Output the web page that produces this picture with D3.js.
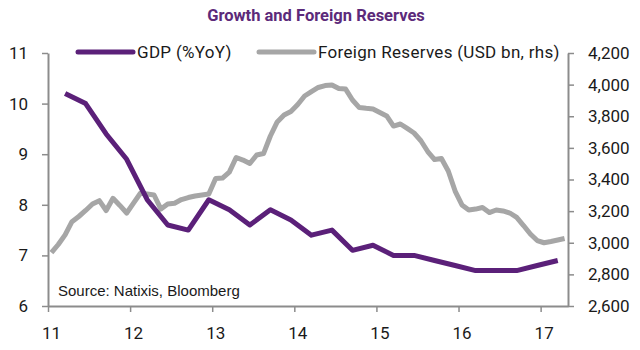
<!DOCTYPE html>
<html>
<head>
<meta charset="utf-8">
<script src="https://cdn.jsdelivr.net/npm/d3@7"></script>
<style>
  body { margin: 0; background: #fff; }
  svg { display: block; }
</style>
</head>
<body>
<div id="chart"></div>
<script>
// Growth and Foreign Reserves: quarterly GDP (left axis) vs monthly reserves (right axis)

// GDP % YoY, quarterly from Q1 2011 to Q1 2017
const gdpStart = 2011;
const gdpValues = [10.2, 10.0, 9.4, 8.9, 8.1, 7.6, 7.5, 8.1, 7.9, 7.6, 7.9, 7.7,
                   7.4, 7.5, 7.1, 7.2, 7.0, 7.0, 6.9, 6.8, 6.7, 6.7, 6.7, 6.8, 6.9];

// Foreign reserves, USD bn, monthly from Jan 2011 to Apr 2017
const reserveValues = [
  2937, 2989, 3050, 3133, 3166, 3204, 3245, 3266, 3204, 3281, 3236, 3188,
  3251, 3313, 3308, 3302, 3213, 3245, 3250, 3273, 3286, 3296, 3302, 3308,
  3406, 3409, 3447, 3539, 3523, 3501, 3555, 3564, 3675, 3764, 3808, 3830,
  3874, 3928, 3956, 3982, 3994, 3998, 3975, 3972, 3903, 3855, 3850, 3846,
  3824, 3802, 3738, 3751, 3723, 3694, 3645, 3577, 3526, 3533, 3454, 3327,
  3239, 3207, 3213, 3223, 3191, 3207, 3201, 3188, 3160, 3109, 3055, 3014,
  3000, 3008, 3017, 3027
];

const yearTicks = [2011, 2012, 2013, 2014, 2015, 2016, 2017];
const leftTicks = [6, 7, 8, 9, 10, 11];
const rightTicks = [2600, 2800, 3000, 3200, 3400, 3600, 3800, 4000, 4200];

// month index -> fractional year (middle of the month)
const gdp = gdpValues.map((v, i) => ({ t: gdpStart + (i * 3 + 2.5) / 12, v }));
const reserves = reserveValues.map((v, i) => ({ t: gdpStart + (i + 0.5) / 12, v }));

const width = 640, height = 350;
const plot = { left: 48, right: 568, top: 53, bottom: 306 };

const purple = "#5b2079";
const grey = "#a6a6a6";
const axisColor = "#8c8c8c";

const svg = d3.select("#chart").append("svg")
    .attr("width", width)
    .attr("height", height)
    .style("font-family", "Roboto, sans-serif");

const x = d3.scaleLinear().domain([2011, 2017 + 4 / 12]).range([plot.left, plot.right]);
const yL = d3.scaleLinear().domain([6, 11]).range([plot.bottom, plot.top]);
const yR = d3.scaleLinear().domain([2600, 4200]).range([plot.bottom, plot.top]);

// Title
svg.append("text")
    .attr("x", 316)
    .attr("y", 21)
    .attr("text-anchor", "middle")
    .style("font-size", "16.5px")
    .style("font-weight", "bold")
    .attr("fill", "#5c2a7a")
    .text("Growth and Foreign Reserves");

// Axes
function styleAxis(g) {
  g.select(".domain").attr("stroke", axisColor).attr("stroke-width", 2);
  g.selectAll(".tick line").attr("stroke", axisColor).attr("stroke-width", 1.5);
  g.selectAll(".tick text").attr("fill", "#1a1a1a").style("font-size", "17px");
  g.attr("font-family", null);
}

svg.append("g")
    .attr("transform", `translate(${plot.left},0)`)
    .call(d3.axisLeft(yL).tickValues(leftTicks).tickSize(6).tickSizeOuter(0).tickPadding(14)
      .tickFormat(d3.format("d")))
    .call(styleAxis);

svg.append("g")
    .attr("transform", `translate(${plot.right},0)`)
    .call(d3.axisRight(yR).tickValues(rightTicks).tickSize(6).tickSizeOuter(0).tickPadding(14)
      .tickFormat(d3.format(",")))
    .call(styleAxis);

svg.append("g")
    .attr("transform", `translate(0,${plot.bottom})`)
    .call(d3.axisBottom(x).tickValues(yearTicks).tickSize(6).tickSizeOuter(0).tickPadding(15)
      .tickFormat(d => String(d).slice(2)))
    .call(styleAxis)
    .call(g => g.selectAll("text").attr("dx", 3));

// Lines
const line = y => d3.line().x(d => x(d.t)).y(d => y(d.v));

svg.append("path")
    .datum(reserves)
    .attr("fill", "none")
    .attr("stroke", grey)
    .attr("stroke-width", 5)
    .attr("stroke-linejoin", "round")
    .attr("d", line(yR));

svg.append("path")
    .datum(gdp)
    .attr("fill", "none")
    .attr("stroke", purple)
    .attr("stroke-width", 5)
    .attr("stroke-linejoin", "round")
    .attr("d", line(yL));

// Legend
const legend = [
  { label: "GDP (%YoY)", color: purple, x: 78 },
  { label: "Foreign Reserves (USD bn, rhs)", color: grey, x: 259 }
];
legend.forEach(d => {
  svg.append("line")
      .attr("x1", d.x).attr("x2", d.x + 55)
      .attr("y1", 52).attr("y2", 52)
      .attr("stroke", d.color)
      .attr("stroke-width", 5)
      .attr("stroke-linecap", "round");
  svg.append("text")
      .attr("x", d.x + 59)
      .attr("y", 58)
      .attr("fill", "#1a1a1a")
      .style("font-size", "17px")
      .style("letter-spacing", "0.3px")
      .text(d.label);
});

// Source note
svg.append("text")
    .attr("x", 58)
    .attr("y", 296)
    .attr("fill", "#1a1a1a")
    .style("font-family", "'Liberation Sans', Arial, sans-serif")
    .style("font-size", "15px")
    .text("Source: Natixis, Bloomberg");
</script>
</body>
</html>
